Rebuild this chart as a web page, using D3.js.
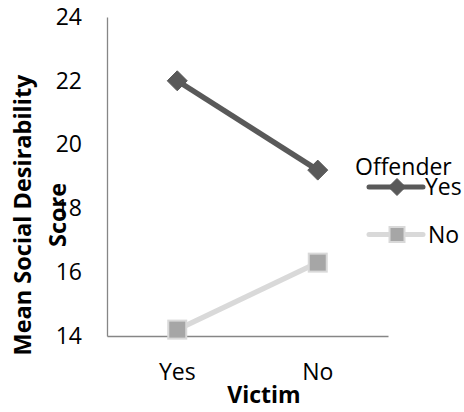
<!DOCTYPE html>
<html>
<head>
<meta charset="utf-8">
<script src="https://cdn.jsdelivr.net/npm/d3@7"></script>
<style>
  html, body { margin: 0; padding: 0; background: #fff; }
  svg { display: block; font-family: "Open Sans", sans-serif; }
</style>
</head>
<body>
<svg id="chart" width="464" height="412"></svg>
<script>
// Victim status categories on the x axis
const categories = ["Yes", "No"];
// Offender groups (legend order)
const seriesNames = ["Yes", "No"];
// Mean social desirability score per offender group, by victim status
const offenderYes = [22.0, 19.2];
const offenderNo = [14.2, 16.3];
const yTicks = [14, 16, 18, 20, 22, 24];

const series = [
  { name: seriesNames[0], values: offenderYes, line: "#595959", fill: "#595959", stroke: "#595959", shape: "diamond" },
  { name: seriesNames[1], values: offenderNo, line: "#d9d9d9", fill: "#a6a6a6", stroke: "#d9d9d9", shape: "square" }
];

const FS = 23;
const svg = d3.select("#chart");
const plot = { left: 107, right: 388, top: 17, bottom: 336 };

const x = d3.scaleBand().domain(categories).range([plot.left, plot.right]);
const y = d3.scaleLinear().domain([14, 24]).range([plot.bottom, plot.top]);

// Y axis: labels only, plus the vertical rule
const yAxis = svg.append("g")
  .attr("transform", `translate(${plot.left},0)`)
  .call(d3.axisLeft(y).tickValues(yTicks).tickSize(0).tickPadding(25));
yAxis.select(".domain").attr("stroke", "#868686").attr("stroke-width", 1.3);
yAxis.selectAll("text").attr("font-size", FS).attr("fill", "#000")
  .attr("font-family", "Open Sans, sans-serif");

// X axis
const xAxis = svg.append("g")
  .attr("transform", `translate(0,${plot.bottom})`)
  .call(d3.axisBottom(x).tickSize(0).tickPadding(27.5));
xAxis.select(".domain").attr("stroke", "#868686").attr("stroke-width", 1.3);
xAxis.selectAll("text").attr("font-size", FS).attr("fill", "#000")
  .attr("font-family", "Open Sans, sans-serif");

// Axis titles
svg.append("text")
  .attr("x", 264)
  .attr("y", 403)
  .attr("text-anchor", "middle")
  .attr("font-size", FS)
  .attr("font-weight", "bold")
  .text("Victim");

const yTitle = svg.append("text")
  .attr("transform", "translate(0,215) rotate(-90)")
  .attr("text-anchor", "middle")
  .attr("font-size", 23.5)
  .attr("font-weight", "bold");
yTitle.append("tspan").attr("x", 0).attr("y", 31).text("Mean Social Desirability");
yTitle.append("tspan").attr("x", 0).attr("y", 66).text("Score");

const cx = d => x(d) + x.bandwidth() / 2;
const line = d3.line().x((v, i) => cx(categories[i])).y(v => y(v));

function marker(sel, s, px, py, r) {
  if (s.shape === "diamond") {
    sel.append("path")
      .attr("d", `M${px},${py - r}L${px + r},${py}L${px},${py + r}L${px - r},${py}Z`)
      .attr("fill", s.fill).attr("stroke", s.stroke).attr("stroke-width", 1);
  } else {
    const h = r - 1;
    sel.append("rect")
      .attr("x", px - h).attr("y", py - h).attr("width", 2 * h).attr("height", 2 * h)
      .attr("fill", s.fill).attr("stroke", s.stroke).attr("stroke-width", 2);
  }
}

series.forEach(s => {
  const g = svg.append("g");
  g.append("path")
    .datum(s.values)
    .attr("d", line)
    .attr("fill", "none")
    .attr("stroke", s.line)
    .attr("stroke-width", 5.5);
  s.values.forEach((v, i) => marker(g, s, cx(categories[i]), y(v), 10));
});

// Legend
const legend = svg.append("g");
legend.append("text")
  .attr("x", 355).attr("y", 175)
  .attr("font-size", FS)
  .text("Offender");
const legendRows = [187, 234.5];
series.forEach((s, i) => {
  const ly = legendRows[i];
  legend.append("line")
    .attr("x1", 369).attr("x2", 423).attr("y1", ly).attr("y2", ly)
    .attr("stroke", s.line).attr("stroke-width", 5).attr("stroke-linecap", "round");
  marker(legend, s, 397, ly, 8.5);
  legend.append("text")
    .attr("x", i === 0 ? 425 : 428).attr("y", ly + (i === 0 ? 7.5 : 8))
    .attr("font-size", FS)
    .text(s.name);
});
</script>
</body>
</html>
